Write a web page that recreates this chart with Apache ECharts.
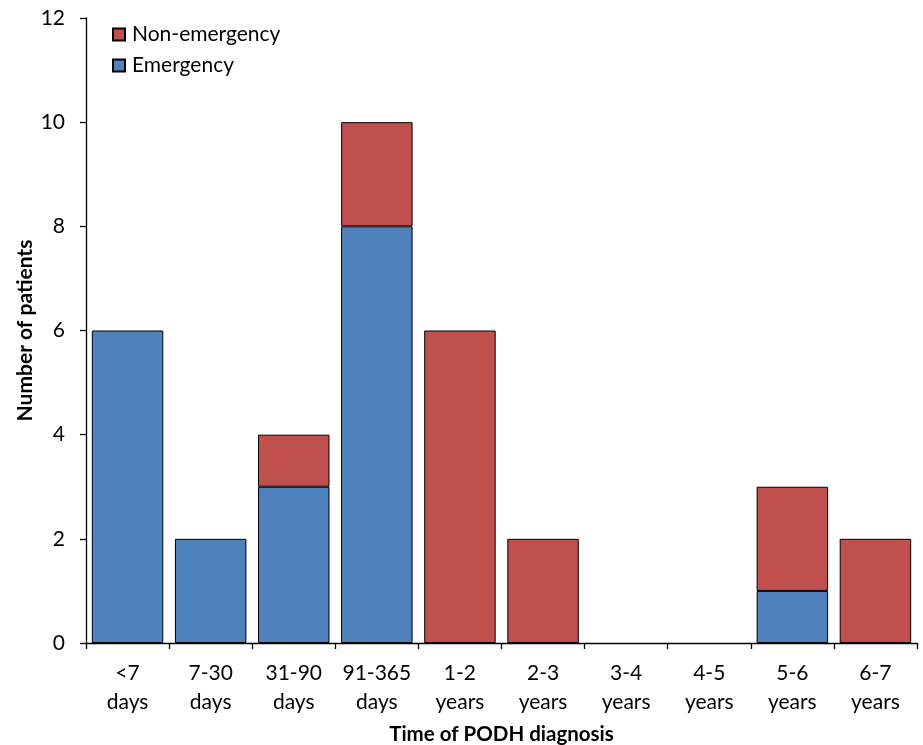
<!DOCTYPE html>
<html>
<head>
<meta charset="utf-8">
<script src="https://cdn.jsdelivr.net/npm/echarts@6/dist/echarts.min.js"></script>
<style>html,body{margin:0;padding:0;background:#fff;}#c{width:923px;height:745px;}</style>
</head>
<body>
<div id="c"></div>
<script>
var categories = ['<7\ndays','7-30\ndays','31-90\ndays','91-365\ndays','1-2\nyears','2-3\nyears','3-4\nyears','4-5\nyears','5-6\nyears','6-7\nyears'];
var emergency = [6,2,3,8,0,0,0,0,1,0];
var nonEmergency = [0,0,1,2,6,2,0,0,2,2];
var yTicks = [0,2,4,6,8,10,12];

var FONT = 'Lato, "Open Sans", sans-serif';
function nz(a){return a.map(function(v){return v===0?null:v;});}
var chart = echarts.init(document.getElementById('c'), null, {renderer:'canvas'});
chart.setOption({
  animation:false,
  textStyle:{fontFamily:FONT},
  grid:{left:86,right:6,top:18,bottom:102,containLabel:false,outerBoundsMode:'none'},
  legend:{
    orient:'vertical', left:112, top:24, padding:0, itemWidth:12, itemHeight:12, itemGap:10,
    data:['Non-emergency','Emergency'],
    textStyle:{fontSize:21,lineHeight:21,color:'#000',fontFamily:FONT,padding:[0,0,0,2]},
    icon:'rect'
  },
  xAxis:{
    type:'category', data:categories,
    name:'Time of PODH diagnosis', nameLocation:'middle', nameGap:81, nameMoveOverlap:false,
    nameTextStyle:{fontSize:20.5,fontWeight:'bold',color:'#000',fontFamily:FONT},
    axisLine:{lineStyle:{color:'#000',width:1.3}},
    axisTick:{show:true,length:6,lineStyle:{color:'#000',width:1.3}},
    axisLabel:{color:'#000',fontSize:21,lineHeight:29,margin:16,fontFamily:FONT,interval:0}
  },
  yAxis:{
    type:'value', min:yTicks[0], max:yTicks[yTicks.length-1], interval:2,
    name:'Number of patients', nameLocation:'middle', nameGap:50, nameRotate:90, nameMoveOverlap:false,
    nameTextStyle:{fontSize:21,fontWeight:'bold',color:'#000',fontFamily:FONT},
    axisLine:{show:true,lineStyle:{color:'#000',width:1.3}},
    axisTick:{show:true,length:6,lineStyle:{color:'#000',width:1.3}},
    splitLine:{show:false},
    axisLabel:{color:'#000',fontSize:21,margin:21,fontFamily:FONT}
  },
  series:[
    {name:'Emergency',type:'bar',stack:'a',data:nz(emergency),barCategoryGap:'14%',
     itemStyle:{color:'#4F81BD',borderColor:'#000',borderWidth:1}},
    {name:'Non-emergency',type:'bar',stack:'a',data:nz(nonEmergency),barCategoryGap:'14%',
     itemStyle:{color:'#C0504D',borderColor:'#000',borderWidth:1}}
  ]
});
</script>
</body>
</html>
